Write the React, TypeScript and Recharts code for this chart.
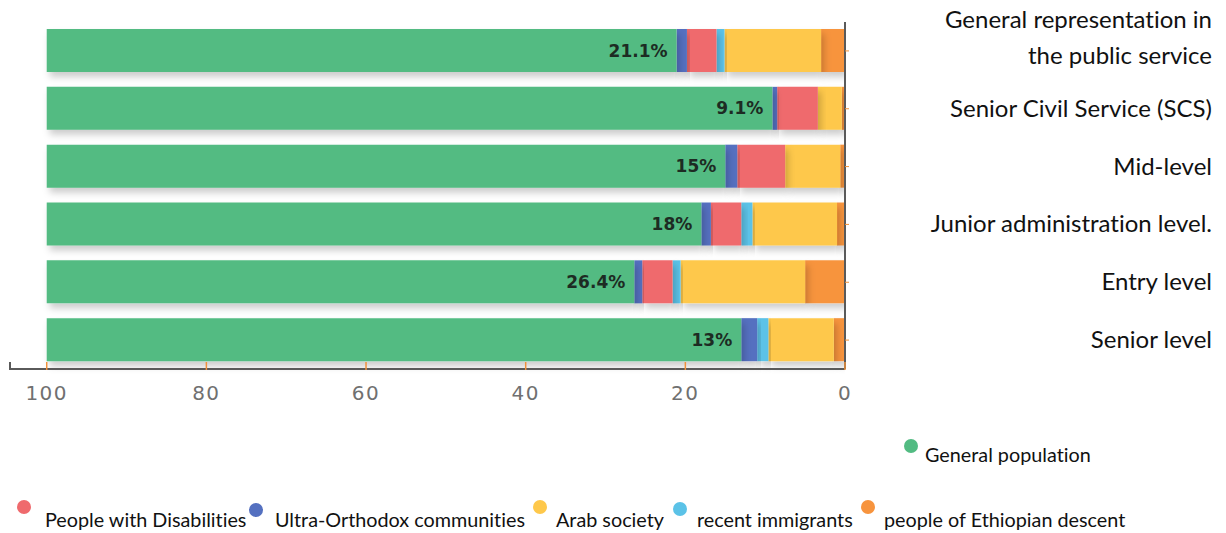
import React from "react";
import { BarChart, Bar, XAxis, YAxis, LabelList, Legend } from "recharts";

// ---------- data ----------
const categories = [
  "General representation in\nthe public service",
  "Senior Civil Service (SCS)",
  "Mid-level",
  "Junior administration level.",
  "Entry level",
  "Senior level",
];
const generalPopulation = [78.9, 90.9, 85.0, 82.0, 73.6, 87.0];
const ultraOrthodox = [1.3, 0.6, 1.5, 1.2, 1.0, 2.0];
const disabilities = [3.7, 5.1, 6.0, 3.8, 3.8, 0];
const recentImmigrants = [1.0, 0, 0, 1.4, 1.0, 1.4];
const arabSociety = [12.1, 3.0, 6.9, 10.6, 15.6, 8.2];
const ethiopianDescent = [3.0, 0.4, 0.6, 1.0, 5.0, 1.4];
const minorityShareLabels = ["21.1%", "9.1%", "15%", "18%", "26.4%", "13%"];
const xTicks = [0, 20, 40, 60, 80, 100];
const X_MAX = 104.6;

const data = categories.map((category, i) => ({
  category,
  ethiopian: ethiopianDescent[i],
  arab: arabSociety[i],
  immigrants: recentImmigrants[i],
  disabilities: disabilities[i],
  orthodox: ultraOrthodox[i],
  general: generalPopulation[i],
  label: minorityShareLabels[i],
}));

// stacking order: from 0 (right) towards 100 (left)
const SERIES = [
  { key: "ethiopian", name: "people of Ethiopian descent", color: "#f7943e" },
  { key: "arab", name: "Arab society", color: "#fec84b" },
  { key: "immigrants", name: "recent immigrants", color: "#5bc2e7" },
  { key: "disabilities", name: "People with Disabilities", color: "#ef6a6d" },
  { key: "orthodox", name: "Ultra-Orthodox communities", color: "#5470c0" },
  { key: "general", name: "General population", color: "#52bb82" },
];

const AXIS_COLOR = "#5a5a5a";
const TICK_MARK = "#f0923a";
const LABEL_FONT = "Lato, 'Liberation Sans', sans-serif";

const XTick = (props: any) => {
  const { x, y, payload } = props;
  const isEnd = payload.value === X_MAX;
  return (
    <g>
      <line
        x1={x}
        x2={x}
        y1={y - 7}
        y2={y + 1}
        stroke={isEnd ? AXIS_COLOR : TICK_MARK}
        strokeWidth={isEnd ? 2 : 1.5}
      />
      {!isEnd && (
        <text
          x={x}
          y={y + 31}
          textAnchor="middle"
          fontFamily="'DejaVu Sans', sans-serif"
          fontSize={20}
          letterSpacing={1.5}
          fill="#707070"
        >
          {payload.value}
        </text>
      )}
    </g>
  );
};

const YTick = (props: any) => {
  const { x, y, payload } = props;
  const lines = String(payload.value).split("\n");
  const tx = x + 361;
  const style = { fontVariantLigatures: "none" as const };
  if (lines.length === 1) {
    return (
      <text x={tx} y={y + 8} textAnchor="end" fontFamily={LABEL_FONT} fontSize={24} fill="#111" style={style}>
        {lines[0]}
      </text>
    );
  }
  return (
    <text textAnchor="end" fontFamily={LABEL_FONT} fontSize={24} fill="#111" style={style}>
      <tspan x={tx} y={y - 23}>{lines[0]}</tspan>
      <tspan x={tx} y={y + 13}>{lines[1]}</tspan>
    </text>
  );
};

const ShareLabel = (props: any) => {
  const { x, y, width, height, value } = props;
  const right = Math.max(x, x + width);
  return (
    <text
      x={right - 9}
      y={y + height / 2}
      dy="0.36em"
      textAnchor="end"
      fontFamily="'DejaVu Sans', sans-serif"
      fontWeight="bold"
      fontSize={17}
      fill="#1d2b23"
    >
      {value}
    </text>
  );
};

// legend layout (positions relative to legend box)
const LEGEND_LAYOUT: Record<string, { cx: number; cy: number; tx: number; ty: number }> = {
  general: { cx: 911, cy: 16, tx: 925, ty: 32 },
  disabilities: { cx: 24, cy: 77, tx: 45, ty: 97 },
  orthodox: { cx: 256, cy: 80, tx: 275, ty: 97 },
  arab: { cx: 540, cy: 77, tx: 556, ty: 97 },
  immigrants: { cx: 680, cy: 79, tx: 697, ty: 97 },
  ethiopian: { cx: 868, cy: 77, tx: 884, ty: 97 },
};

const renderLegend = (props: any) => {
  const { payload = [] } = props;
  return (
    <svg width={1226} height={103} style={{ display: "block" }}>
      {payload.map((entry: any) => {
        const pos = LEGEND_LAYOUT[entry.dataKey];
        if (!pos) return null;
        return (
          <g key={entry.dataKey}>
            <circle cx={pos.cx} cy={pos.cy} r={7} fill={entry.color} />
            <text
              x={pos.tx}
              y={pos.ty}
              fontFamily={LABEL_FONT}
              fontSize={19.8}
              fill="#111"
              style={{ fontVariantLigatures: "none" }}
            >
              {entry.value}
            </text>
          </g>
        );
      })}
    </svg>
  );
};

export default function App() {
  return (
    <div style={{ position: "absolute", left: 0, top: 0, width: 1226, height: 533, background: "#fff" }}>
      <BarChart
        width={1226}
        height={533}
        data={data}
        layout="vertical"
        margin={{ top: 22, right: 14, left: 10, bottom: 134 }}
        barSize={43}
      >
        <defs>
          <filter id="barShadow" x="-10%" y="-40%" width="130%" height="200%">
            <feDropShadow dx="3" dy="5" stdDeviation="3.5" floodColor="#000" floodOpacity="0.2" />
          </filter>
        </defs>
        <XAxis
          type="number"
          domain={[0, X_MAX]}
          reversed
          allowDataOverflow
          ticks={[...xTicks, X_MAX]}
          interval={0}
          tick={<XTick />}
          tickLine={false}
          tickSize={0}
          tickMargin={0}
          axisLine={{ stroke: AXIS_COLOR, strokeWidth: 2 }}
          height={30}
        />
        <YAxis
          type="category"
          dataKey="category"
          orientation="right"
          width={367}
          interval={0}
          axisLine={{ stroke: AXIS_COLOR, strokeWidth: 2 }}
          tickLine={{ stroke: TICK_MARK }}
          tickSize={4}
          tickMargin={2}
          tick={<YTick />}
        />
        {SERIES.map((s) => (
          <Bar
            key={s.key}
            dataKey={s.key}
            name={s.name}
            stackId="a"
            fill={s.color}
            isAnimationActive={false}
            style={{ filter: "url(#barShadow)" }}
          >
            {s.key === "general" && <LabelList dataKey="label" content={<ShareLabel />} />}
          </Bar>
        ))}
        <Legend
          verticalAlign="middle"
          align="center"
          layout="horizontal"
          wrapperStyle={{ top: 430, left: 0, width: 1226, height: 103 }}
          content={renderLegend}
        />
      </BarChart>
    </div>
  );
}
